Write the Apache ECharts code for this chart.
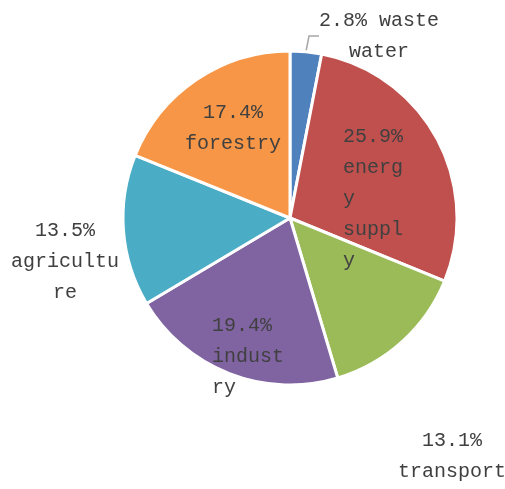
<!DOCTYPE html>
<html>
<head>
<meta charset="utf-8">
<script src="https://cdn.jsdelivr.net/npm/echarts@6/dist/echarts.min.js"></script>
<style>
  html, body { margin: 0; padding: 0; background: #fff; }
  #chart { width: 505px; height: 489px; }
</style>
</head>
<body>
<div id="chart"></div>
<script>
// 饼图数据（数值直接读自图上标签）
const categories = ['waste water', 'energy supply', 'transport', 'industry', 'agriculture', 'forestry']
const values = [2.8, 25.9, 13.1, 19.4, 13.5, 17.4]
// 标签里被折行的名称
const wrappedNames = ['waste\nwater', 'energ\ny\nsuppl\ny', 'transport', 'indust\nry', 'agricultu\nre', 'forestry']
const colors = ['#4F81BD', '#C0504D', '#9BBB59', '#8064A2', '#4BACC6', '#F79646']

// 标签位置（文字块的锚点）
const labelPos = [
  { x: 379, y: 36, align: 'center' },
  { x: 343, y: 199, align: 'left' },
  { x: 452, y: 456, align: 'center' },
  { x: 212, y: 357, align: 'left' },
  { x: 65, y: 262, align: 'center' },
  { x: 233, y: 128, align: 'center' }
]

const chart = echarts.init(document.getElementById('chart'))

const seriesData = categories.map((name, i) => {
  return {
    name: name,
    value: values[i],
    itemStyle: { color: colors[i] },
    label: {
      formatter: i === 0
        ? values[i] + '% waste\nwater'
        : values[i] + '%\n' + wrappedNames[i]
    },
    labelLine: { show: i === 0 }
  }
})

const option = {
  animation: false,
  series: [
    {
      type: 'pie',
      center: [290, 218],
      radius: 167,
      startAngle: 90,
      clockwise: true,
      avoidLabelOverlap: false,
      itemStyle: {
        borderColor: '#fff',
        borderWidth: 3
      },
      label: {
        show: true,
        position: 'outside',
        color: '#404040',
        fontFamily: 'Liberation Mono',
        fontSize: 20,
        lineHeight: 31,
        overflow: 'none'
      },
      labelLine: {
        show: false,
        length: 10,
        length2: 10,
        lineStyle: { color: '#A6A6A6', width: 1.5 }
      },
      labelLayout: (params) => {
        const p = labelPos[params.dataIndex]
        return {
          x: p.x,
          y: p.y,
          align: p.align,
          verticalAlign: 'middle'
        }
      },
      data: seriesData
    }
  ]
}
chart.setOption(option)
</script>
</body>
</html>
